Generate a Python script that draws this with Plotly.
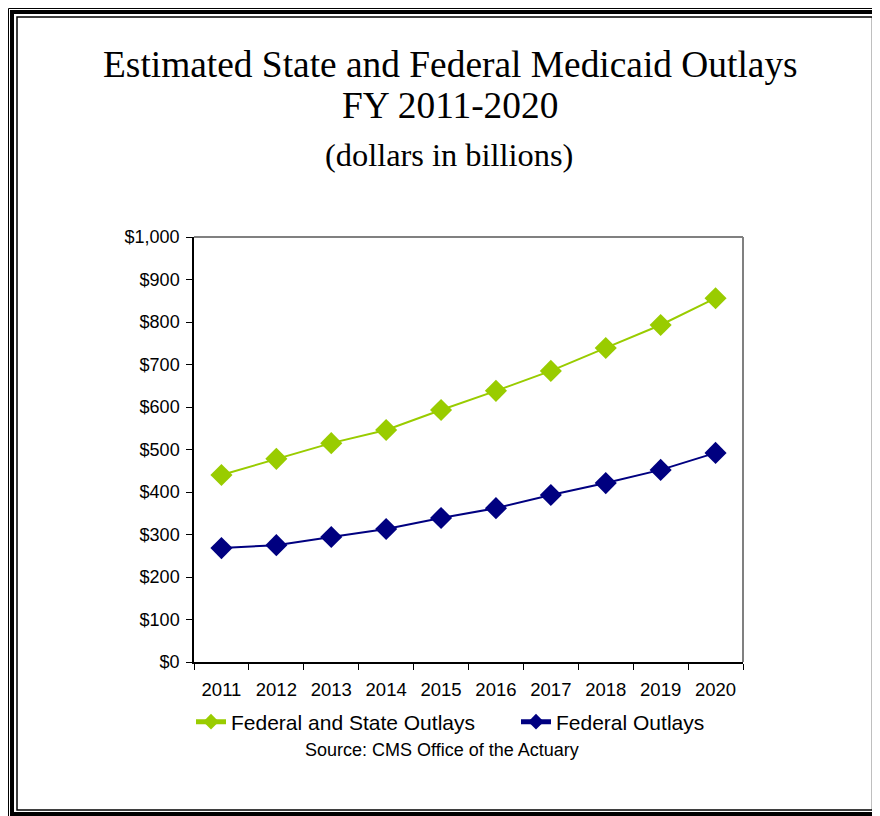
import plotly.graph_objects as go

years = ["2011", "2012", "2013", "2014", "2015", "2016", "2017", "2018", "2019", "2020"]
fed_state = [440, 478, 515, 546, 593, 638, 685, 739, 793, 856]
federal = [268, 275, 294, 313, 339, 362, 393, 421, 452, 492]
y_ticks = [0, 100, 200, 300, 400, 500, 600, 700, 800, 900, 1000]
y_labels = ["$0", "$100", "$200", "$300", "$400", "$500", "$600", "$700", "$800", "$900", "$1,000"]

W, H = 880, 816
OFF = 8  # page body offset
L, R, T, B = 194 - OFF, 743 - OFF, 237 - OFF, 662 - OFF  # plot area in figure pixels


def px(x):
    """screenshot pixel x -> paper x"""
    return (x - OFF - L) / (R - L)


def py(y):
    """screenshot pixel y -> paper y"""
    return (B - (y - OFF)) / (B - T)


fig = go.Figure()
fig.add_trace(go.Scatter(
    x=years, y=fed_state, name="Federal and State Outlays", mode="lines+markers",
    line=dict(color="#99CC00", width=2),
    marker=dict(symbol="diamond", size=17, color="#99CC00"),
))
fig.add_trace(go.Scatter(
    x=years, y=federal, name="Federal Outlays", mode="lines+markers",
    line=dict(color="#000080", width=2),
    marker=dict(symbol="diamond", size=17, color="#000080"),
))

shapes = [
    # plot area top/right gray border
    dict(type="line", xref="paper", yref="paper", x0=0, x1=1, y0=1, y1=1,
         line=dict(color="#808080", width=2)),
    dict(type="line", xref="paper", yref="paper", x0=1, x1=1, y0=0, y1=1,
         line=dict(color="#808080", width=2)),
    # page frame
    dict(type="rect", xref="paper", yref="paper", x0=px(8.5), x1=px(887.5), y0=py(8.5), y1=py(823.5),
         line=dict(color="black", width=1)),
    dict(type="rect", xref="paper", yref="paper", x0=px(12), x1=px(877.5), y0=py(12), y1=py(814),
         line=dict(color="black", width=4)),
    dict(type="rect", xref="paper", yref="paper", x0=px(17), x1=px(872.5), y0=py(17), y1=py(810),
         line=dict(color="black", width=1.5)),
]

annotations = [
    dict(text="Estimated State and Federal Medicaid Outlays", x=px(450), y=py(65),
         font=dict(family="Liberation Serif", size=37.4, color="black")),
    dict(text="FY 2011-2020", x=px(450), y=py(105),
         font=dict(family="Liberation Serif", size=37.4, color="black")),
    dict(text="(dollars in billions)", x=px(449), y=py(155),
         font=dict(family="Liberation Serif", size=32.4, color="black")),
    dict(text="Source: CMS Office of the Actuary", x=px(442), y=py(750),
         font=dict(family="Liberation Sans", size=18, color="black")),
]
for a in annotations:
    a.update(xref="paper", yref="paper", showarrow=False, xanchor="center", yanchor="middle")

fig.update_layout(
    width=W, height=H,
    margin=dict(l=L, r=W - R, t=T, b=H - B, pad=0),
    paper_bgcolor="white", plot_bgcolor="white",
    font=dict(family="Liberation Sans", color="black"),
    showlegend=True,
    legend=dict(orientation="h", x=px(191), y=py(722), xanchor="left", yanchor="middle",
                entrywidth=280, entrywidthmode="pixels",
                font=dict(family="Liberation Sans", size=21, color="black"),
                itemsizing="constant", bgcolor="rgba(0,0,0,0)"),
    shapes=shapes,
    annotations=annotations,
)
fig.update_xaxes(
    type="category", range=[-0.5, 9.5], tickson="boundaries",
    showline=True, linecolor="black", linewidth=1.5,
    ticks="outside", ticklen=6, tickcolor="black", tickwidth=1,
    showgrid=False, zeroline=False, ticklabelstandoff=10,
    tickfont=dict(family="Liberation Sans", size=18.5, color="black"),
)
fig.update_yaxes(
    range=[0, 1000], tickmode="array", tickvals=y_ticks, ticktext=y_labels,
    showline=True, linecolor="black", linewidth=1.5,
    ticks="outside", ticklen=6, tickcolor="black", tickwidth=1,
    showgrid=False, zeroline=False, ticklabelstandoff=3,
    tickfont=dict(family="Liberation Sans", size=18, color="black"),
)

fig.write_html("out.html")
